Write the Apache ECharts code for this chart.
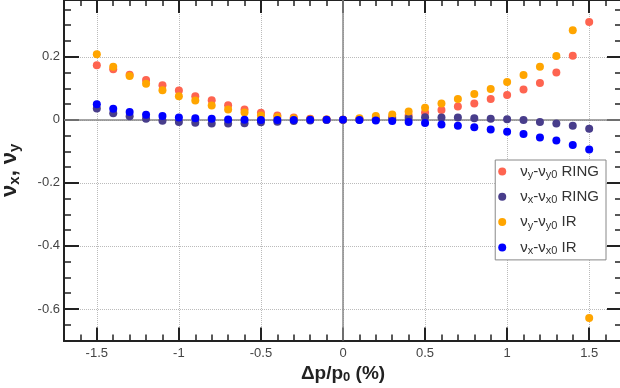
<!DOCTYPE html>
<html>
<head>
<meta charset="utf-8">
<script src="https://cdn.jsdelivr.net/npm/echarts@6/dist/echarts.min.js"></script>
<style>html,body{margin:0;padding:0;background:#fff}#c{width:620px;height:388px}</style>
</head>
<body>
<div id="c"></div>
<script>
var dp = [-1.5,-1.4,-1.3,-1.2,-1.1,-1.0,-0.9,-0.8,-0.7,-0.6,-0.5,-0.4,-0.3,-0.2,-0.1,0,0.1,0.2,0.3,0.4,0.5,0.6,0.7,0.8,0.9,1.0,1.1,1.2,1.3,1.4,1.5];
var nuyRing = [0.173,0.160,0.143,0.126,0.110,0.093,0.075,0.062,0.046,0.033,0.022,0.014,0.007,0.003,0.001,0,0.002,0.005,0.009,0.014,0.023,0.031,0.042,0.052,0.066,0.079,0.096,0.117,0.150,0.203,0.310];
var nuxRing = [0.036,0.021,0.011,0.003,-0.003,-0.007,-0.009,-0.012,-0.012,-0.011,-0.008,-0.006,-0.004,-0.002,-0.001,0,0.000,0.001,0.003,0.006,0.008,0.007,0.007,0.005,0.003,0.002,-0.001,-0.007,-0.012,-0.019,-0.028];
var nuyIR = [0.208,0.168,0.139,0.114,0.094,0.075,0.061,0.045,0.033,0.023,0.014,0.009,0.005,0.002,0.001,0,0.005,0.012,0.017,0.026,0.038,0.052,0.066,0.082,0.098,0.120,0.142,0.168,0.202,0.284,-0.629];
var nuxIR = [0.049,0.035,0.025,0.016,0.012,0.007,0.005,0.003,0.001,0.000,-0.001,-0.001,-0.001,0.000,0.000,0,-0.001,-0.002,-0.004,-0.007,-0.010,-0.015,-0.019,-0.024,-0.031,-0.038,-0.045,-0.056,-0.066,-0.080,-0.094];
var seriesNames = ['nuyRing','nuxRing','nuyIR','nuxIR'];
var legendLabels = ['ν{s|y}-ν{s|y0} RING','ν{s|x}-ν{s|x0} RING','ν{s|y}-ν{s|y0} IR','ν{s|x}-ν{s|x0} IR'];
var colors = ['#fe6450','#483d8b','#ffa500','#0000ff'];
var xTicks = [-1.5,-1,-0.5,0,0.5,1,1.5];
var yTicks = [-0.6,-0.4,-0.2,0,0.2];
var xMin = -1.7, xMax = 1.7, yMin = -0.7, yMax = 0.38;

var FONT = 'Liberation Sans';
function pairs(ys){ return dp.map(function(x,i){ return [x, ys[i]]; }); }
var values = [nuyRing, nuxRing, nuyIR, nuxIR];

function xAx(pos, major, labels){
  var a = {type:'value', position:pos, min:xMin, max:xMax,
    axisLine:{show:true,onZero:false,lineStyle:{color:'#222',width:2}},
    axisLabel:{show:false}, splitLine:{show:false}};
  if (major){
    a.axisTick = {customValues:xTicks, inside:true, length:13, lineStyle:{color:'#222',width:2}};
    if (labels){
      a.axisLabel = {show:true, customValues:xTicks, margin:6, color:'#444', fontSize:13, fontFamily:FONT};
      a.splitLine = {show:true, lineStyle:{type:'dotted', color:'#bbb', width:1}};
      a.name = 'Δp/p{s|0} (%)';
      a.nameLocation = 'middle';
      a.nameGap = 21;
      a.nameTextStyle = {fontSize:19, fontWeight:'bold', color:'#222', fontFamily:FONT,
        rich:{s:{fontSize:13, fontWeight:'bold', color:'#222', fontFamily:FONT, padding:[8,0,0,0]}}};
    }
  } else {
    a.interval = 0.1;
    a.axisTick = {inside:true, length:6, lineStyle:{color:'#222',width:1.5}};
  }
  return a;
}
function yAx(pos, major, labels){
  var a = {type:'value', position:pos, min:yMin, max:yMax,
    axisLine:{show:true,onZero:false,lineStyle:{color:'#222',width:2}},
    axisLabel:{show:false}, splitLine:{show:false}};
  if (major){
    a.axisTick = {customValues:yTicks, inside:true, length:15, lineStyle:{color:'#222',width:2}};
    if (labels){
      a.axisLabel = {show:true, customValues:yTicks, margin:4, color:'#444', fontSize:13, fontFamily:FONT};
      a.splitLine = {show:true, lineStyle:{type:'dotted', color:'#bbb', width:1}};
      a.name = 'ν{s|x}, ν{s|y}';
      a.nameLocation = 'middle';
      a.nameGap = 42;
      a.nameRotate = 90;
      a.nameTextStyle = {fontSize:22, fontWeight:'bold', color:'#222', fontFamily:FONT,
        rich:{s:{fontSize:15, fontWeight:'bold', color:'#222', fontFamily:FONT, padding:[9,0,0,0]}}};
    }
  } else {
    a.interval = 0.05;
    a.axisTick = {inside:true, length:7, lineStyle:{color:'#222',width:1.5}};
  }
  return a;
}

var series = seriesNames.map(function(n,i){
  var s = {type:'scatter', name:n, data:pairs(values[i]), symbolSize:8, z:10,
    xAxisIndex:0, yAxisIndex:0, itemStyle:{color:colors[i], opacity:1}};
  if (i === 0){
    s.markLine = {silent:true, symbol:'none', z:2, label:{show:false},
      lineStyle:{type:'solid', color:'#888', width:1.5},
      data:[{xAxis:0},{yAxis:0}]};
  }
  return s;
});

var chart = echarts.init(document.getElementById('c'), null, {renderer:'canvas'});
chart.setOption({
  animation:false,
  backgroundColor:'#fff',
  grid:{left:64, right:-2, top:0, bottom:47.5, containLabel:false, outerBoundsMode:'none'},
  xAxis:[xAx('bottom',false), xAx('bottom',true,true), xAx('top',false), xAx('top',true,false)],
  yAxis:[yAx('left',false), yAx('left',true,true), yAx('right',false), yAx('right',true,false)],
  legend:{orient:'vertical', right:14, top:160, backgroundColor:'#fff',
    borderColor:'#888', borderWidth:1, borderRadius:0, padding:[2,7,3,3],
    itemGap:6.3, itemWidth:8, itemHeight:8, icon:'circle',
    data:seriesNames,
    formatter:function(n){ return '{g|}' + legendLabels[seriesNames.indexOf(n)]; },
    textStyle:{fontSize:15, color:'#333', fontFamily:FONT, lineHeight:19,
      rich:{g:{width:9}, s:{fontSize:11, color:'#333', fontFamily:FONT, padding:[7,0,0,0]}}}},
  series:series
});
</script>
</body>
</html>
